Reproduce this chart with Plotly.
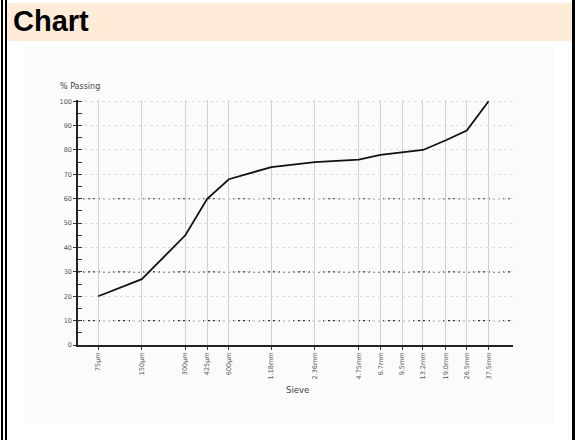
import plotly.graph_objects as go

# ---- data ----
sieve_mm = [0.075, 0.15, 0.3, 0.425, 0.6, 1.18, 2.36, 4.75, 6.7, 9.5, 13.2, 19.0, 26.5, 37.5]
sieve_labels = ["75µm", "150µm", "300µm", "425µm", "600µm", "1.18mm", "2.36mm", "4.75mm",
                "6.7mm", "9.5mm", "13.2mm", "19.0mm", "26.5mm", "37.5mm"]
passing = [20, 27, 45, 60, 68, 73, 75, 76, 78, 79, 80, 84, 88, 100]
y_ticks = list(range(0, 101, 10))
dark_grid = [10, 30, 60]

W, H = 584, 440
L, R, T, B = 78, 513, 100, 345  # plot area in pixels


def px(x):
    return (x - L) / (R - L)


def py(y):
    return (B - y) / (B - T)


fig = go.Figure()
fig.add_trace(go.Scatter(x=sieve_mm, y=passing, mode="lines",
                         line=dict(color="#111111", width=1.8), showlegend=False,
                         hoverinfo="x+y"))

shapes = []
# faint chart image background
shapes.append(dict(type="rect", xref="paper", yref="paper", x0=px(25), x1=px(554), y0=py(47), y1=py(424),
                   fillcolor="#fbfbfb", line=dict(width=0), layer="below"))
# header band
shapes.append(dict(type="rect", xref="paper", yref="paper", x0=px(7), x1=px(572), y0=py(3), y1=py(41),
                   fillcolor="#feebd8", line=dict(width=0), layer="below"))
# frame lines
for x0, x1 in [(1, 3), (5, 7), (572, 575)]:
    shapes.append(dict(type="rect", xref="paper", yref="paper", x0=px(x0), x1=px(x1), y0=py(0), y1=py(440),
                       fillcolor="#000000", line=dict(width=0)))
# darker dotted gridlines
for g in dark_grid:
    shapes.append(dict(type="line", xref="paper", yref="y", x0=0, x1=1, y0=g, y1=g,
                       line=dict(color="#333333", width=1.2, dash="2px,3px"), layer="below"))

annotations = [
    dict(text="<b>Chart</b>", xref="paper", yref="paper", x=px(11), y=py(21), xanchor="left", yanchor="middle",
         showarrow=False, font=dict(family="Liberation Sans, Arial", size=29, color="#000000")),
    dict(text="% Passing", xref="paper", yref="paper", x=px(58), y=py(86), xanchor="left", yanchor="middle",
         showarrow=False, font=dict(family="DejaVu Sans", size=8, color="#444444")),
    dict(text="Sieve", xref="paper", yref="paper", x=px(297), y=py(390), xanchor="center", yanchor="middle",
         showarrow=False, font=dict(family="DejaVu Sans", size=8.5, color="#444444")),
]

fig.update_layout(
    width=W, height=H,
    margin=dict(l=L, r=W - R, t=T, b=H - B, pad=0),
    paper_bgcolor="white", plot_bgcolor="rgba(0,0,0,0)",
    shapes=shapes, annotations=annotations,
    font=dict(family="DejaVu Sans", size=6, color="#555555"),
)
fig.update_xaxes(type="log", range=[-1.265, 1.743], tickvals=sieve_mm, ticktext=sieve_labels,
                 tickangle=-90, showgrid=True, gridcolor="#cfcfcf", gridwidth=1,
                 showline=True, linecolor="#222222", linewidth=1.5,
                 ticks="outside", ticklen=3, tickcolor="#333333",
                 tickfont=dict(family="DejaVu Sans", size=6.5, color="#555555"), zeroline=False,
                 fixedrange=True)
fig.update_yaxes(range=[0, 100.5], tickvals=y_ticks, showgrid=True, gridcolor="#dddddd",
                 griddash="dot", gridwidth=1,
                 showline=True, linecolor="#222222", linewidth=1.5,
                 ticks="outside", ticklen=3, tickcolor="#333333",
                 minor=dict(dtick=5, tick0=5, ticks="inside", ticklen=4, tickcolor="#333333", showgrid=False),
                 tickfont=dict(family="DejaVu Sans", size=6.5, color="#555555"), zeroline=False,
                 fixedrange=True)

fig.write_html("out.html", config={"displayModeBar": False},
               post_script="document.body.style.margin='0px';")
